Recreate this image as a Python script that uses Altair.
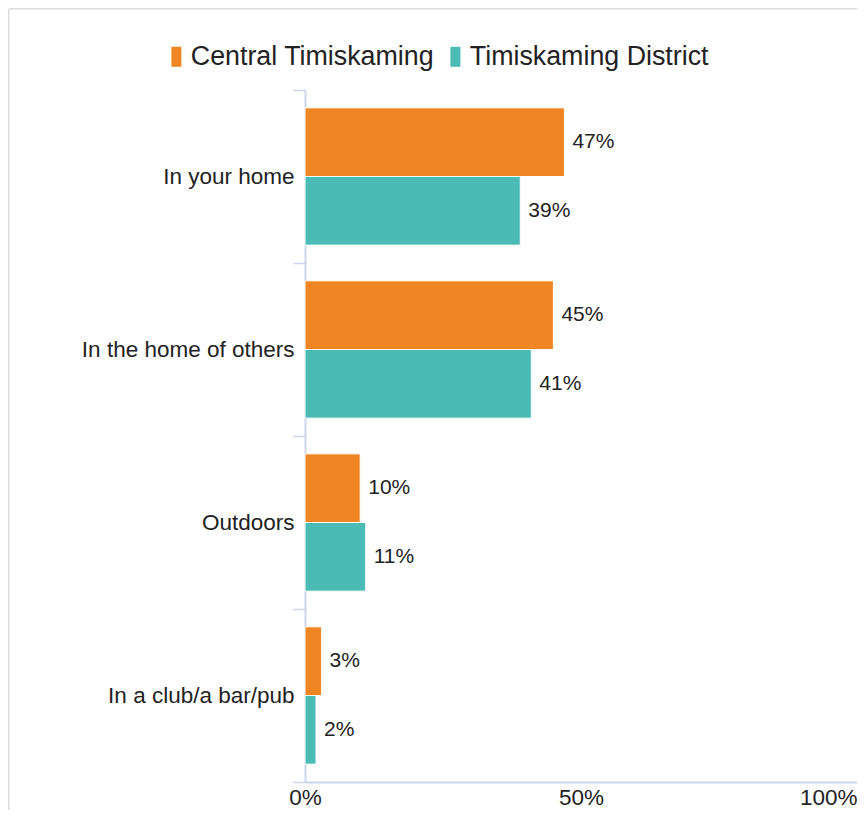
import altair as alt
import pandas as pd

categories = ["In your home", "In the home of others", "Outdoors", "In a club/a bar/pub"]
series = ["Central Timiskaming", "Timiskaming District"]
central = [47, 45, 10, 3]
district = [39, 41, 11, 2]
colors = ["#EF8623", "#4BBCB5"]
x_ticks = [0, 50, 100]

rows = []
for c, a, b in zip(categories, central, district):
    rows.append({"category": c, "series": series[0], "value": a, "label": f"{a}%"})
    rows.append({"category": c, "series": series[1], "value": b, "label": f"{b}%"})
df = pd.DataFrame(rows)

FONT = "Liberation Sans"
AXIS_COLOR = "#ccd6eb"
TEXT_COLOR = "#222222"

y_enc = alt.Y(
    "category:N",
    sort=categories,
    scale=alt.Scale(paddingInner=0, paddingOuter=0),
    axis=alt.Axis(
        title=None,
        tickBand="extent",
        tickSize=12,
        tickWidth=1.5,
        tickColor=AXIS_COLOR,
        domainColor=AXIS_COLOR,
        domainWidth=2,
        labelPadding=-1,
        labelFontSize=22.5,
        labelColor=TEXT_COLOR,
        labelFont=FONT,
        labelLimit=400,
    ),
)
yoff_enc = alt.YOffset(
    "series:N",
    sort=series,
    scale=alt.Scale(paddingInner=0, paddingOuter=0.26),
)
x_enc = alt.X(
    "value:Q",
    scale=alt.Scale(domain=[0, 100], nice=False),
    axis=alt.Axis(
        title=None,
        values=x_ticks,
        grid=False,
        ticks=False,
        domainColor=AXIS_COLOR,
        domainWidth=2,
        labelPadding=4,
        labelFontSize=22.5,
        labelColor=TEXT_COLOR,
        labelFont=FONT,
        labelExpr="datum.value + '%'",
        labelAlign=alt.expr("datum.value == 100 ? 'right' : 'center'"),
    ),
)

bars = alt.Chart(df).mark_bar(stroke="white", strokeWidth=1).encode(
    y=y_enc,
    yOffset=yoff_enc,
    x=x_enc,
    color=alt.Color(
        "series:N",
        sort=series,
        scale=alt.Scale(domain=series, range=colors),
        legend=alt.Legend(
            title=None,
            orient="none",
            direction="horizontal",
            legendX=-142,
            legendY=-47,
            labelFontSize=26.8,
            labelFont=FONT,
            labelColor=TEXT_COLOR,
            labelLimit=500,
            symbolType="M-0.5,-1H0.5V1H-0.5Z",
            symbolSize=400,
            symbolStrokeWidth=0,
            symbolOpacity=1,
            labelOffset=1,
            columnPadding=7,
            padding=0,
        ),
    ),
)

labels = alt.Chart(df).mark_text(
    align="left", baseline="middle", dx=8, fontSize=21, font=FONT, color=TEXT_COLOR
).encode(
    y=alt.Y("category:N", sort=categories),
    yOffset=alt.YOffset("series:N", sort=series),
    x=alt.X("value:Q"),
    text="label:N",
)

frame_src = alt.Data(values=[{"f": 1}])
frame_top = alt.Chart(frame_src).mark_rule(color="#dddddd", strokeWidth=1.5).encode(
    x=alt.value(-296),
    x2=alt.value(600),
    y=alt.value(-81.25),
)
frame_left = alt.Chart(frame_src).mark_rule(color="#dddddd", strokeWidth=1.5).encode(
    x=alt.value(-296.25),
    y=alt.value(-81),
    y2=alt.value(800),
)

chart = (
    alt.layer(frame_top, frame_left, bars, labels)
    .properties(
        width=552,
        height=692,
        autosize=alt.AutoSizeParams(type="none"),
        padding={"left": 297, "top": 82, "right": 0, "bottom": 28},
    )
    .configure(font=FONT)
    .configure_view(stroke=None)
)

chart.save("out.html", embed_options={"renderer": "svg", "actions": False})
